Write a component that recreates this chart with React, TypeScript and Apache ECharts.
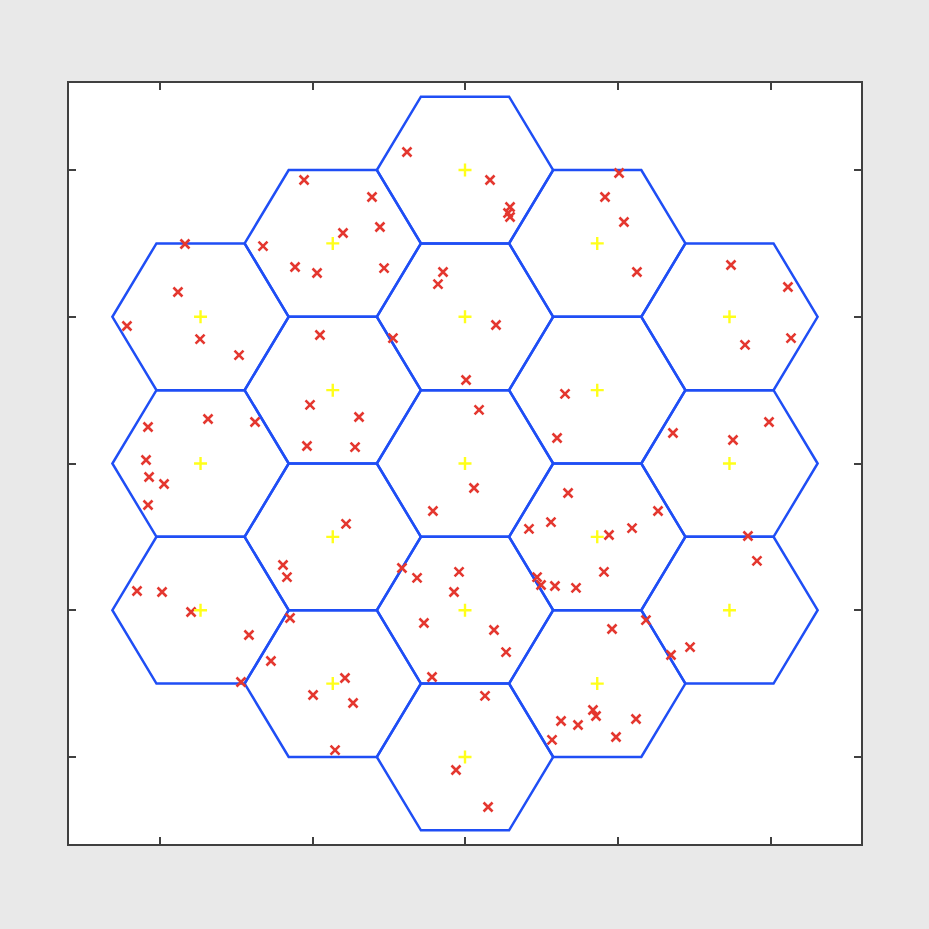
import React, { useEffect, useRef } from "react";
import * as echarts from "echarts";

// Hexagonal cell centres (metres)
const cellX = [0, 0, 0, 0, 0, 866, 866, 866, 866, -866, -866, -866, -866, 1732, 1732, 1732, -1732, -1732, -1732];
const cellY = [-2000, -1000, 0, 1000, 2000, -1500, -500, 500, 1500, -1500, -500, 500, 1500, -1000, 0, 1000, -1000, 0, 1000];

// User positions (metres)
const userX = [
  -380, 164, 1009, -1054, 917, -609, 295, 282, 295, 1041,
  -557, -799, -1834, -1323, 1742, -1113, -969, -530, -144, -177,
  1126, 2115, -1880, -2214, 203, -950, -472, -1735, 2135, 1834,
  -1480, 7, 655, -1015, 92, -1683, -1375, -694, 1991, -2076,
  1362, 603, 1755, -1035, -720, -2089, -2069, -1971, 59, 675,
  -2076, -210, 1264, -779, 563, 419, 1094, 943, 1853, 1912,
  -1192, -413, -39, 910, -1166, -314, 472, 498, 589, 727,
  -72, -2148, -1984, -1794, -1146, 1185, -269, 963, 190, -1415,
  1474, 269, 1349, -1271, -216, -786, -1467, -995, 131, -733,
  838, 858, 1120, 629, 740, 989, 570, -851, -59, 151,
];
const userY = [
  2123, 1932, 1980, 1932, 1816, 1816, 1748, 1707, 1680, 1646,
  1612, 1571, 1496, 1482, 1353, 1339, 1298, 1332, 1305, 1223,
  1305, 1203, 1169, 937, 944, 876, 855, 848, 855, 808,
  739, 569, 474, 399, 365, 303, 283, 317, 283, 249,
  208, 174, 160, 119, 112, 24, -92, -140, -167, -201,
  -283, -324, -324, -412, -399, -446, -440, -487, -494, -664,
  -692, -712, -739, -739, -774, -780, -774, -828, -835, -848,
  -876, -869, -876, -1012, -1053, -1067, -1087, -1128, -1135, -1169,
  -1251, -1285, -1305, -1346, -1455, -1462, -1489, -1578, -1584, -1632,
  -1680, -1721, -1741, -1755, -1782, -1864, -1884, -1953, -2089, -2341,
];

const tickValues = [-2000, -1000, 0, 1000, 2000];
const axisMin = -2600;
const axisMax = 2600;
const cellRadius = 1000 / Math.sqrt(3);

export default function App() {
  const ref = useRef<HTMLDivElement>(null);
  useEffect(() => {
    if (!ref.current) return;
    const chart = echarts.init(ref.current, null, { renderer: "svg" });
    const tickStyle = {
      show: true,
      inside: true,
      length: 8,
      customValues: tickValues,
      lineStyle: { color: "#404040", width: 2 },
    };
    const mkAxis = (position: string) => ({
      type: "value",
      min: axisMin,
      max: axisMax,
      position,
      axisLine: { show: false, onZero: false },
      axisTick: tickStyle,
      axisLabel: { show: false },
      splitLine: { show: false },
    });
    chart.setOption({
      animation: false,
      backgroundColor: "#e9e9e9",
      grid: {
        show: true,
        left: 68,
        top: 82,
        width: 794,
        height: 763,
        backgroundColor: "#ffffff",
        borderColor: "#404040",
        borderWidth: 2,
      },
      xAxis: [mkAxis("bottom"), mkAxis("top")],
      yAxis: [mkAxis("left"), mkAxis("right")],
      series: [
        {
          type: "custom",
          name: "cells",
          data: cellX.map((x, i) => [x, cellY[i]]),
          encode: { x: 0, y: 1 },
          clip: true,
          renderItem: (params: any, api: any) => {
            const cx = api.value(0);
            const cy = api.value(1);
            const pts: number[][] = [];
            for (let k = 0; k < 6; k++) {
              const a = (Math.PI / 3) * k;
              pts.push(api.coord([cx + cellRadius * Math.cos(a), cy + cellRadius * Math.sin(a)]));
            }
            return {
              type: "polygon",
              shape: { points: pts },
              style: { fill: "none", stroke: "#1f4ef5", lineWidth: 2.5 },
            };
          },
          z: 1,
        },
        {
          type: "scatter",
          name: "users",
          data: userX.map((x, i) => [x, userY[i]]),
          symbol: "path://M0,0L10,10M10,0L0,10",
          symbolSize: 9,
          itemStyle: { color: "transparent", borderColor: "#e4372f", borderWidth: 2.6, opacity: 1 },
          z: 2,
        },
        {
          type: "scatter",
          name: "centres",
          data: cellX.map((x, i) => [x, cellY[i]]),
          symbol: "path://M5,0L5,10M0,5L10,5",
          symbolSize: 13,
          itemStyle: { color: "transparent", borderColor: "#ffff1a", borderWidth: 2.4, opacity: 1 },
          z: 3,
        },
      ],
    });
    return () => chart.dispose();
  }, []);
  return (
    <div
      ref={ref}
      style={{ position: "fixed", left: 0, top: 0, width: 929, height: 929 }}
    />
  );
}
